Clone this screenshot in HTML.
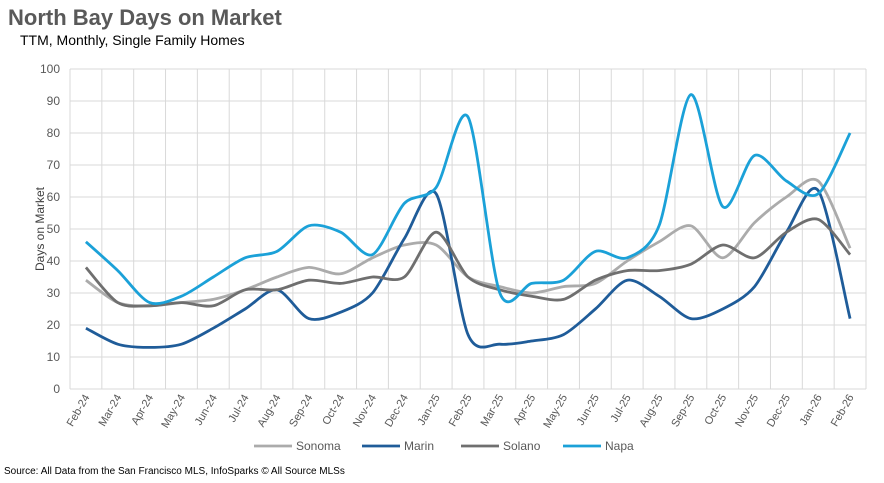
<!DOCTYPE html>
<html><head><meta charset="utf-8"><style>
body{margin:0;background:#fff;font-family:"Liberation Sans",sans-serif}
svg text{font-family:"Liberation Sans",sans-serif}
</style></head><body>
<svg width="884" height="478">
<text x="8" y="25" font-size="22" font-weight="bold" fill="#595959">North Bay Days on Market</text>
<text x="20" y="45" font-size="14" fill="#000">TTM, Monthly, Single Family Homes</text>
<text transform="translate(44,229) rotate(-90)" font-size="12" fill="#404040" text-anchor="middle">Days on Market</text>
<g id="grid"></g><g id="ylab"></g><g id="xlab"></g><g id="series"></g><g id="legend"></g>
<text x="4" y="474" font-size="10" fill="#000">Source: All Data from the San Francisco MLS, InfoSparks © All Source MLSs</text>
</svg>
<script>
const categories=["Feb-24","Mar-24","Apr-24","May-24","Jun-24","Jul-24","Aug-24","Sep-24","Oct-24","Nov-24","Dec-24","Jan-25","Feb-25","Mar-25","Apr-25","May-25","Jun-25","Jul-25","Aug-25","Sep-25","Oct-25","Nov-25","Dec-25","Jan-26","Feb-26"];
const sonoma=[34,27,26,27,28,31,35,38,36,41,45,45,35,32,30,32,33,40,46,51,41,52,60,65,44];
const marin=[19,14,13,14,19,25,31,22,24,30,47,61,17,14,15,17,25,34,29,22,25,32,49,62,22];
const solano=[38,27,26,27,26,31,31,34,33,35,35,49,35,31,29,28,34,37,37,39,45,41,49,53,42];
const napa=[46,37,27,29,35,41,43,51,49,42,58,63,85,30,33,34,43,41,51,92,57,73,65,61,80];
const yTicks=[0,10,20,30,40,50,60,70,80,90,100];
const seriesNames=["Sonoma","Marin","Solano","Napa"];
const colors=["#ababab","#1f5c99","#6f6f6f","#1ba1d8"];
const NS="http://www.w3.org/2000/svg";
const L=70,R=866,T=69,B=389,n=categories.length,bw=(R-L)/n;
const xs=i=>L+bw*(i+0.5), ys=v=>B-(v/100)*(B-T);
function mk(t,a,p){const e=document.createElementNS(NS,t);for(const k in a)e.setAttribute(k,a[k]);p.appendChild(e);return e;}
const g=document.getElementById('grid'),yl=document.getElementById('ylab'),xl=document.getElementById('xlab');
yTicks.forEach(v=>{const ln=mk('line',{x1:L,x2:R,y1:ys(v),y2:ys(v),stroke:'#d9d9d9','stroke-width':1},g);

const t=mk('text',{x:L-10,y:ys(v)+4,'font-size':12,fill:'#595959','text-anchor':'end'},yl);t.textContent=v;
});
for(let i=0;i<=n;i++){const ln=mk('line',{x1:L+bw*i,x2:L+bw*i,y1:T,y2:B,stroke:'#d9d9d9','stroke-width':1},g);
}
categories.forEach((c,i)=>{const x=xs(i)+4,y=B+8;const t=mk('text',{x:x,y:y,'font-size':11,fill:'#595959','text-anchor':'end',transform:`rotate(-60 ${x} ${y})`},xl);t.textContent=c;
});
function path(d){const p=d.map((v,i)=>[xs(i),ys(v)]);let s=`M${p[0][0]},${p[0][1]}`;const k=7;
for(let i=0;i<p.length-1;i++){const p0=p[i-1]||p[i],p1=p[i],p2=p[i+1],p3=p[i+2]||p2;
const c1=[p1[0]+(p2[0]-p0[0])/k,p1[1]+(p2[1]-p0[1])/k],c2=[p2[0]-(p3[0]-p1[0])/k,p2[1]-(p3[1]-p1[1])/k];
s+=` C${c1[0]},${c1[1]} ${c2[0]},${c2[1]} ${p2[0]},${p2[1]}`;}return s;}
const sg=document.getElementById('series');
[sonoma,marin,solano,napa].forEach((d,k)=>{const p=mk('path',{d:path(d),fill:'none',stroke:colors[k],'stroke-width':2.8},sg);
});
const lg=document.getElementById('legend');const lx=[254,362,461,563];
seriesNames.forEach((nm,k)=>{const ln=mk('line',{x1:lx[k],x2:lx[k]+38,y1:446,y2:446,stroke:colors[k],'stroke-width':2.8},lg);

const t=mk('text',{x:lx[k]+42,y:450,'font-size':12,fill:'#595959'},lg);t.textContent=nm;
});
</script>
</body></html>
